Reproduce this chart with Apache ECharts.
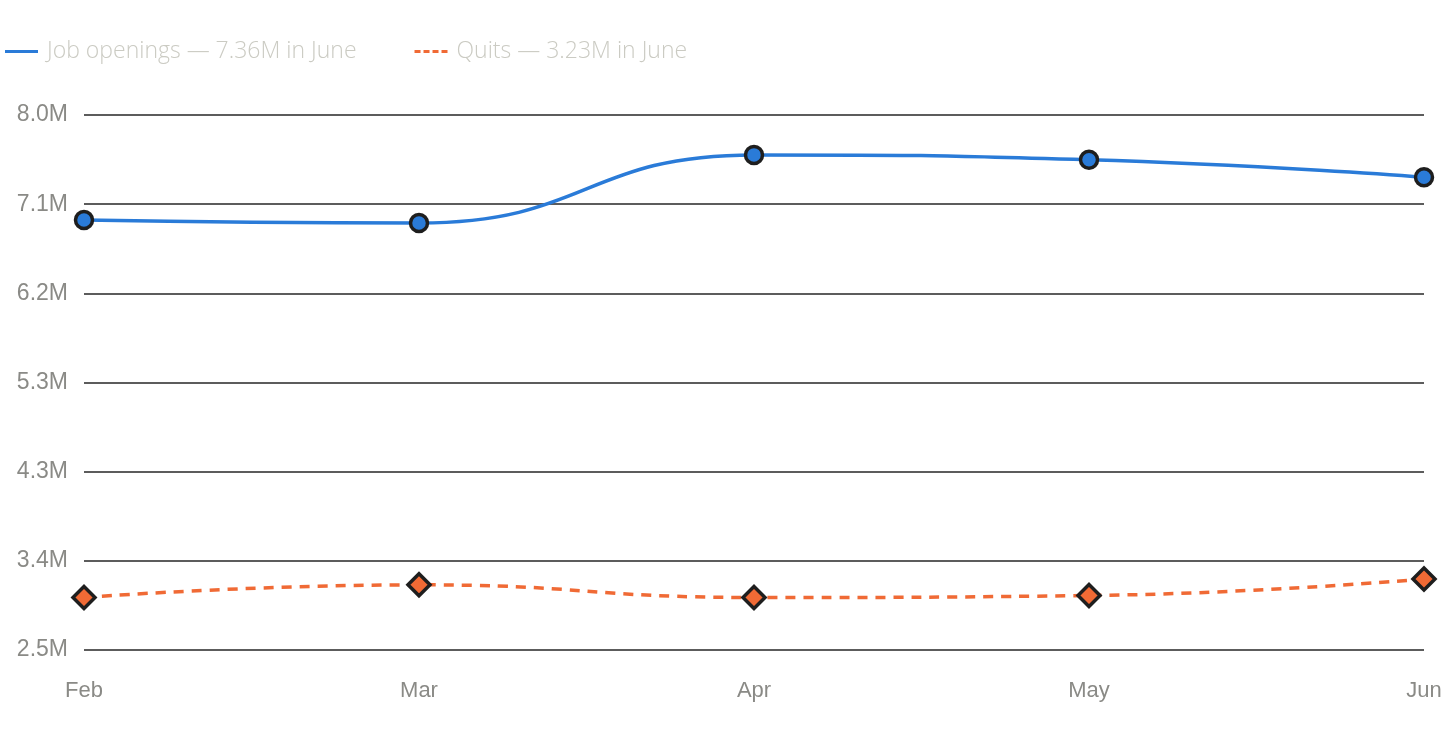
<!DOCTYPE html>
<html lang="en">
<head>
    <meta charset="UTF-8">
    <title>Job openings and quits</title>
    <script src="https://cdn.jsdelivr.net/npm/echarts@6/dist/echarts.min.js"></script>
    <style>
        html, body { margin: 0; padding: 0; background: #fff; }
        #main { width: 1456px; height: 750px; }
    </style>
</head>
<body>
<div id="main"></div>

<script>
    // months and values (millions)
    const months = ['Feb', 'Mar', 'Apr', 'May', 'Jun'];
    const jobOpenings = [6.92, 6.89, 7.59, 7.54, 7.36];
    const quits = [3.04, 3.17, 3.04, 3.06, 3.23];
    const legendNames = ['Job openings — 7.36M in June', 'Quits — 3.23M in June'];

    const blue = '#2a7bd8';
    const orange = '#f06a35';

    const myChart = echarts.init(document.getElementById('main'));

    myChart.setOption({
        animation: false,
        legend: {
            left: 0,
            top: 35,
            itemWidth: 33,
            itemHeight: 3,
            itemGap: 58,
            textStyle: {
                color: '#cbcbc3',
                fontSize: 23,
                fontFamily: 'Open Sans',
                fontWeight: 300,
                padding: [0, 0, 0, 4]
            },
            data: [
                {
                    name: legendNames[0],
                    icon: 'path://M0,0H33V3H0Z',
                    itemStyle: { color: blue, borderWidth: 0 }
                },
                {
                    name: legendNames[1],
                    icon: 'path://M0,0H6V3H0Z M9,0H15V3H9Z M18,0H24V3H18Z M27,0H33V3H27Z',
                    itemStyle: { color: orange, borderWidth: 0 }
                }
            ]
        },
        grid: {
            left: 84,
            right: 32,
            top: 115,
            bottom: 100
        },
        xAxis: {
            type: 'category',
            data: months,
            boundaryGap: false,
            axisLine: { show: false },
            axisTick: { show: false },
            axisLabel: {
                color: '#8a8a86',
                fontSize: 22,
                fontFamily: 'Liberation Sans',
                margin: 30
            }
        },
        yAxis: {
            type: 'value',
            min: 2.5,
            max: 8.0,
            interval: 5.5 / 6,
            axisLine: { show: false },
            axisTick: { show: false },
            axisLabel: {
                color: '#8a8a86',
                fontSize: 23,
                fontFamily: 'Liberation Sans',
                margin: 16,
                formatter: function (v) { return v.toFixed(1) + 'M'; }
            },
            splitLine: {
                lineStyle: { color: '#262626', width: 1.5 }
            }
        },
        series: [
            {
                name: legendNames[0],
                type: 'line',
                data: jobOpenings,
                smooth: 0.5,
                symbol: 'circle',
                symbolSize: 17,
                lineStyle: { color: blue, width: 3.5 },
                itemStyle: { color: blue, borderColor: '#1e1e1e', borderWidth: 3.5 }
            },
            {
                name: legendNames[1],
                type: 'line',
                data: quits,
                smooth: 0.5,
                symbol: 'diamond',
                symbolSize: 22,
                lineStyle: { color: orange, width: 3.5, type: [10, 8] },
                itemStyle: { color: orange, borderColor: '#1e1e1e', borderWidth: 3.5 }
            }
        ]
    });
</script>
</body>
</html>
